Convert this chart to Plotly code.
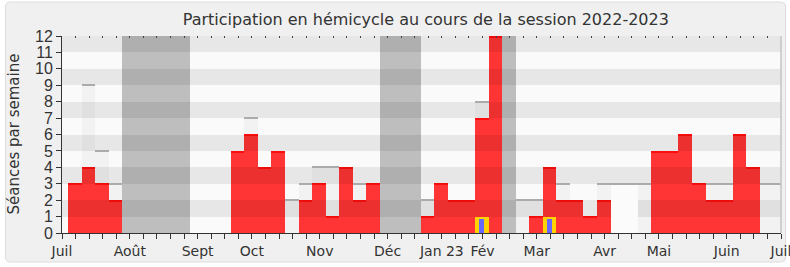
import plotly.graph_objects as go

# ---- data (weekly, session 2022-2023, week index 0 = first week of July 2022) ----
weeks = list(range(53))
presences = [3, 4, 3, 2, 0, 0, 0, 0, 0, 0, 0, 0, 5, 6, 4, 5, 0, 2, 3, 1, 4, 2, 3,
             0, 0, 0, 1, 3, 2, 2, 7, 12, 0, 0, 1, 4, 2, 2, 1, 2, 0, 0, 0, 5, 5, 6,
             3, 2, 2, 6, 4, 0, 0]
seances = [3, 9, 5, 3, 0, 0, 0, 0, 0, 0, 0, 0, 5, 7, 4, 5, 2, 3, 4, 4, 4, 3, 3,
           0, 0, 0, 2, 3, 2, 2, 8, 12, 0, 2, 2, 4, 3, 2, 1, 3, 0, 0, 3, 3, 3, 3,
           3, 3, 3, 3, 3, 3, 3]
blanc_weeks = [40, 41]
blanc_vals = [3, 3]
vacances_weeks = [4, 5, 6, 7, 8, 23, 24, 25, 32]
vacances_val = 12
interv_weeks = [30, 35]
interv_vals = [1, 1]
questions_weeks = [30, 35]
questions_vals = [0.85, 0.85]

month_ticks = [0, 5, 10, 14, 19, 24, 28, 31, 35, 40, 44, 49, 53]
month_labels = ["Juil", "Août", "Sept", "Oct", "Nov", "Déc", "Jan 23", "Fév",
                "Mar", "Avr", "Mai", "Juin", "Juil"]

OFF = 0.94  # bar centre offset inside the week
NW = 53

def cx(ws):
    return [w + OFF for w in ws]

fig = go.Figure()

# total séances (light grey)
fig.add_trace(go.Bar(x=cx(weeks), y=seances, width=1,
                     marker=dict(color="#f2f2f2", line_width=0), hoverinfo="skip"))
# vacances
fig.add_trace(go.Bar(x=cx(vacances_weeks), y=[vacances_val] * len(vacances_weeks), width=1,
                     marker=dict(color="#bebebe", line_width=0), hoverinfo="skip"))
# présences
fig.add_trace(go.Bar(x=cx(weeks), y=presences, width=1,
                     marker=dict(color="#ff3434", line_width=0), hoverinfo="skip"))
# bright top edge of présences
pres_w = [w for w in weeks if presences[w] > 0]
fig.add_trace(go.Bar(x=cx(pres_w), y=[0.07] * len(pres_w),
                     base=[presences[w] - 0.07 for w in pres_w], width=1,
                     marker=dict(color="#ff0d0d", line_width=0), hoverinfo="skip"))
# horizontal bands (overlay)
band_centres = [1.5, 3.5, 5.5, 7.5, 9.5, 11.5]
fig.add_trace(go.Bar(y=band_centres, x=[NW + 1] * len(band_centres), base=0, width=1,
                     orientation="h", marker=dict(color="rgba(0,0,0,0.075)", line_width=0),
                     hoverinfo="skip"))
# white weeks
fig.add_trace(go.Bar(x=cx(blanc_weeks), y=blanc_vals, width=1,
                     marker=dict(color="#fbfbfb", line_width=0), hoverinfo="skip"))
# top lines of séances where visible
top_w = [w for w in weeks if seances[w] > presences[w]] + blanc_weeks
top_v = [seances[w] for w in weeks if seances[w] > presences[w]] + blanc_vals
fig.add_trace(go.Bar(x=cx(top_w), y=[0.07] * len(top_w), base=[v - 0.035 for v in top_v],
                     width=1, marker=dict(color="#ababab", line_width=0), hoverinfo="skip"))
# interventions (yellow) and questions (blue)
fig.add_trace(go.Bar(x=cx(interv_weeks), y=interv_vals, width=1,
                     marker=dict(color="#ffd200", line_width=0), hoverinfo="skip"))
fig.add_trace(go.Bar(x=cx(questions_weeks), y=questions_vals, width=0.37,
                     marker=dict(color="#6868ff", line_width=0), hoverinfo="skip"))
# dummy trace for top tick axis
fig.add_trace(go.Scatter(x=[0], y=[0], xaxis="x2", mode="markers",
                         marker=dict(opacity=0), hoverinfo="skip"))

ticktext = [""] * (NW + 1)
for t, l in zip(month_ticks, month_labels):
    ticktext[t] = l

fig.update_layout(
    width=790, height=267,
    margin=dict(l=62, r=9, t=36, b=34),
    barmode="overlay", bargap=0,
    showlegend=False,
    paper_bgcolor="white",
    plot_bgcolor="rgba(0,0,0,0)",
    title=dict(text="Participation en hémicycle au cours de la session 2022-2023",
               x=0.539, xanchor="center", xref="container",
               y=1 - 19 / 267, yanchor="middle", automargin=False,
               font=dict(family="DejaVu Sans", size=16, color="#333333")),
    xaxis=dict(range=[0, NW], tickmode="array", tickvals=list(range(NW + 1)),
               ticktext=ticktext, ticks="outside", ticklen=5, tickwidth=1,
               tickcolor="#333333", showline=True, linecolor="#333333", linewidth=1,
               showgrid=False, zeroline=False, fixedrange=True, automargin=False,
               ticklabeloverflow="allow",
               tickfont=dict(family="DejaVu Sans", size=14, color="#333333")),
    xaxis2=dict(range=[0, NW], overlaying="x", side="top", tickmode="array",
                tickvals=list(range(NW + 1)), showticklabels=False, ticks="inside",
                ticklen=2, tickwidth=1, tickcolor="#444444", showline=False,
                showgrid=False, zeroline=False, automargin=False),
    yaxis=dict(range=[0, 12], tickmode="linear", tick0=0, dtick=1, ticks="outside",
               ticklen=5, tickwidth=1, tickcolor="#333333", showline=True,
               linecolor="#333333", linewidth=1, showgrid=False, zeroline=False,
               automargin=False,
               tickfont=dict(family="Liberation Sans", size=16, color="#333333")),
    annotations=[dict(text="Séances par semaine", xref="paper", yref="paper",
                      x=(13 - 62) / 719, y=0.5, xanchor="center", yanchor="middle",
                      textangle=-90, showarrow=False,
                      font=dict(family="DejaVu Sans", size=15, color="#333333"))],
)

pw, ph = 719, 197
def px2paper_x(p):
    return (p - 62) / pw
def px2paper_y(p):
    return (233 - p) / ph

fx0, fx1 = px2paper_x(5.5), px2paper_x(785.5)
fy0, fy1 = px2paper_y(262), px2paper_y(2)
rx = 5 / pw
fig.add_shape(type="path", xref="paper", yref="paper", layer="below",
              path=(f"M{fx0+rx},{fy1} L{fx1-rx},{fy1} Q{fx1},{fy1} {fx1},{fy1-5/ph} "
                    f"L{fx1},{fy0+5/ph} Q{fx1},{fy0} {fx1-rx},{fy0} L{fx0+rx},{fy0} "
                    f"Q{fx0},{fy0} {fx0},{fy0+5/ph} L{fx0},{fy1-5/ph} Q{fx0},{fy1} {fx0+rx},{fy1} Z"),
              fillcolor="#f0f0f0", line=dict(color="#dcdcdc", width=1))
fig.add_shape(type="rect", xref="paper", yref="paper", layer="below",
              x0=0, x1=1, y0=0, y1=1, fillcolor="#fafafa", line_width=0)
fig.add_shape(type="line", xref="paper", yref="paper", layer="above",
              x0=1, x1=1, y0=0, y1=1, line=dict(color="#c4c4c4", width=1.5))

fig.write_html("out.html")
